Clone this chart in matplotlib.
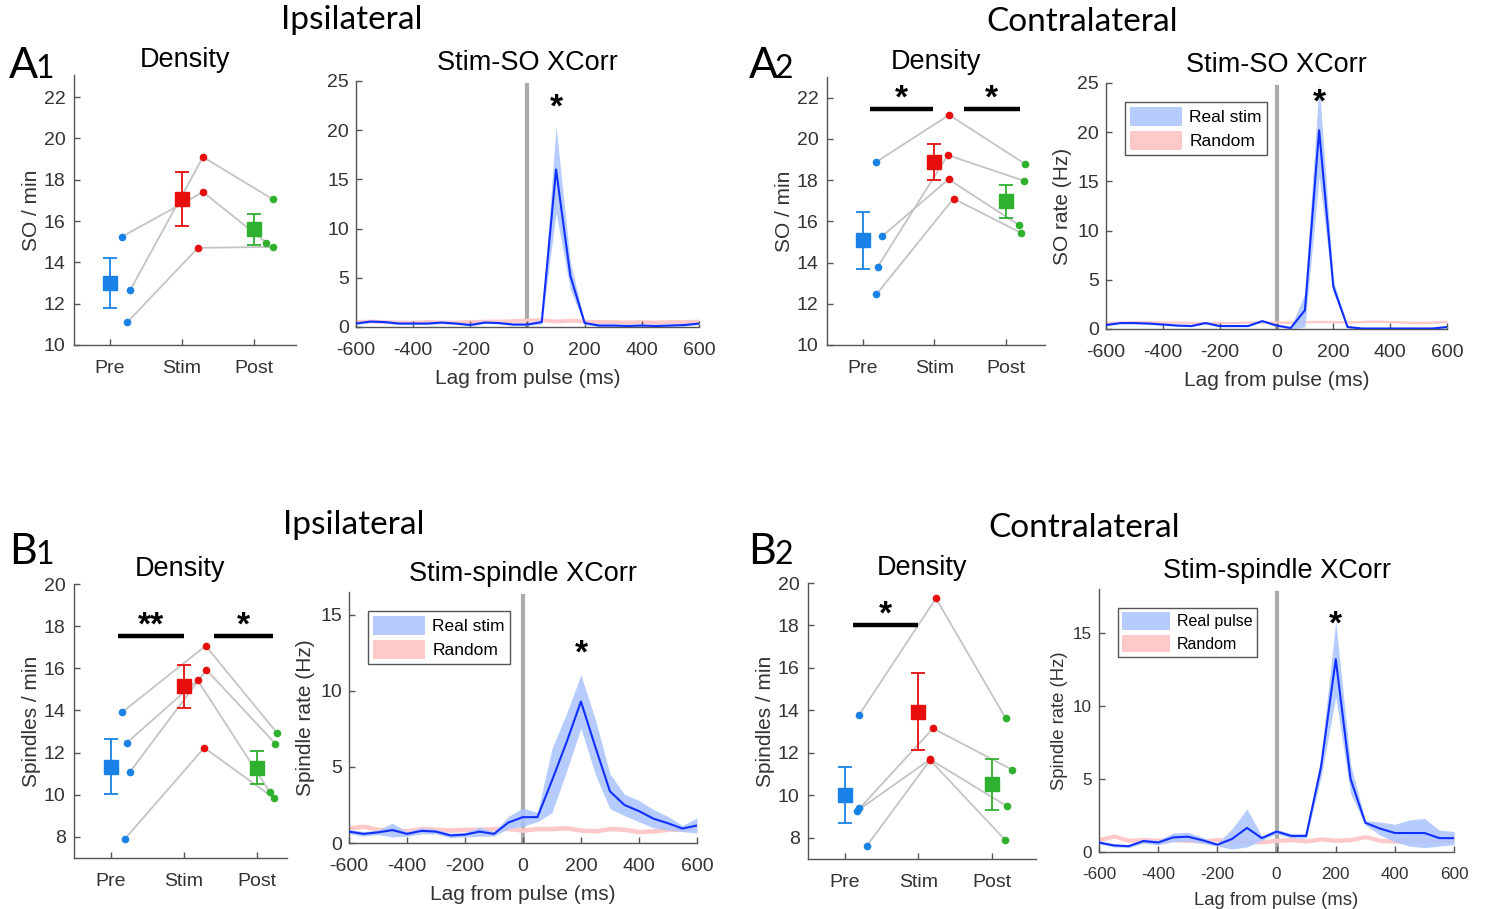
import matplotlib

matplotlib.use("Agg")
import matplotlib.pyplot as plt
import numpy as np

plt.rcParams["font.family"] = ["Liberation Sans", "DejaVu Sans"]
plt.rcParams["axes.unicode_minus"] = False

# ---- density panels: per-subject values (Pre, Stim, Post) and x jitter ----
groups = ["Pre", "Stim", "Post"]

a1_subj = [[15.25, 17.4, 14.95], [12.65, 19.1, 17.05], [11.1, 14.7, 14.75]]
a1_offs = [[0.17, 0.29, 0.17], [0.28, 0.29, 0.26], [0.24, 0.22, 0.26]]
a1_mean = [13.0, 17.05, 15.6]
a1_sem = [1.2, 1.3, 0.75]

a2_subj = [[18.86, 21.16, 18.78], [15.27, 18.04, 15.83], [13.79, 19.21, 17.97], [12.45, 17.10, 15.43]]
a2_offs = [[0.18, 0.21, 0.27], [0.27, 0.20, 0.18], [0.21, 0.19, 0.25], [0.19, 0.27, 0.22]]
a2_mean = [15.07, 18.86, 16.97]
a2_sem = [1.4, 0.87, 0.8]

b1_subj = [[13.92, 17.07, 12.91], [12.46, 15.44, 10.11], [11.06, 15.93, 12.43], [7.92, 12.23, 9.85]]
b1_offs = [[0.16, 0.30, 0.28], [0.22, 0.19, 0.18], [0.26, 0.31, 0.25], [0.20, 0.28, 0.23]]
b1_mean = [11.34, 15.16, 11.29]
b1_sem = [1.29, 1.02, 0.78]

b2_subj = [[13.76, 19.28, 13.62], [9.38, 13.15, 11.2], [9.27, 11.69, 9.48], [7.62, 11.66, 7.9]]
b2_offs = [[0.19, 0.24, 0.19], [0.20, 0.20, 0.28], [0.17, 0.16, 0.21], [0.30, 0.16, 0.18]]
b2_mean = [10.0, 13.94, 10.52]
b2_sem = [1.32, 1.81, 1.2]

# significance bars: (x start, x end, y, label)
a2_sig = [(1.1, 1.99, 21.47, "*"), (2.41, 3.2, 21.47, "*")]
b1_sig = [(1.1, 2.0, 17.55, "**"), (2.42, 3.22, 17.55, "*")]
b2_sig = [(1.11, 1.99, 18.04, "*")]

# ---- cross-correlation panels ----
lags = np.arange(-600, 601, 50)

a1_real = [0.35, 0.55, 0.5, 0.35, 0.35, 0.35, 0.45, 0.35, 0.2, 0.45, 0.4, 0.25, 0.25,
           0.5, 16.0, 5.2, 0.4, 0.15, 0.15, 0.1, 0.15, 0.1, 0.15, 0.2, 0.35]
a1_real_sem = [0.1] * 13 + [0.2, 4.4, 1.4, 0.15] + [0.1] * 8
a1_rand = [0.55, 0.6, 0.55, 0.5, 0.5, 0.55, 0.5, 0.5, 0.55, 0.6, 0.6, 0.65, 0.7,
           0.75, 0.6, 0.7, 0.6, 0.55, 0.55, 0.5, 0.55, 0.5, 0.55, 0.55, 0.6]
a1_rand_sem = [0.2] * 25

a2_real = [0.4, 0.6, 0.6, 0.55, 0.45, 0.35, 0.3, 0.6, 0.3, 0.3, 0.3, 0.8, 0.35,
           0.1, 1.9, 20.2, 4.3, 0.2, 0.05, 0.05, 0.05, 0.05, 0.05, 0.05, 0.2]
a2_real_sem = [0.08] * 13 + [0.1, 1.7, 4.7, 0.6] + [0.08] * 8
a2_rand = [0.65, 0.7, 0.75, 0.75, 0.7, 0.7, 0.65, 0.65, 0.65, 0.65, 0.7, 0.7, 0.7,
           0.7, 0.75, 0.75, 0.75, 0.7, 0.75, 0.8, 0.75, 0.7, 0.65, 0.7, 0.75]
a2_rand_sem = [0.12] * 25

b1_real = [0.75, 0.6, 0.7, 0.85, 0.6, 0.8, 0.75, 0.5, 0.55, 0.75, 0.6, 1.35, 1.7,
           1.7, 4.1, 6.6, 9.3, 6.3, 3.4, 2.5, 2.1, 1.6, 1.3, 0.95, 1.15]
b1_real_sem = [0.15, 0.15, 0.15, 0.45, 0.15, 0.2, 0.15, 0.15, 0.15, 0.3, 0.15, 0.4, 0.6,
               0.3, 2.1, 1.9, 1.75, 1.8, 1.15, 0.7, 0.7, 0.6, 0.45, 0.2, 0.5]
b1_rand = [1.0, 1.1, 0.9, 0.85, 0.8, 0.95, 0.9, 0.85, 0.9, 0.9, 0.95, 0.95, 0.85,
           0.95, 0.95, 1.0, 0.85, 0.8, 0.95, 0.9, 0.75, 0.8, 0.9, 0.9, 1.0]
b1_rand_sem = [0.15] * 25

b2_real = [0.65, 0.45, 0.4, 0.75, 0.65, 1.0, 1.05, 0.8, 0.5, 0.9, 1.65, 0.95, 1.4,
           1.1, 1.1, 5.8, 13.2, 5.0, 2.0, 1.6, 1.3, 1.3, 1.3, 0.95, 0.95]
b2_real_sem = [0.1, 0.1, 0.1, 0.15, 0.15, 0.3, 0.3, 0.2, 0.1, 0.7, 1.3, 0.15, 0.15,
               0.15, 0.15, 0.7, 2.6, 1.0, 0.15, 0.45, 0.6, 0.9, 1.0, 0.55, 0.45]
b2_rand = [0.85, 1.1, 0.8, 0.85, 0.8, 0.85, 0.8, 0.75, 0.85, 0.75, 0.75, 0.7, 0.8,
           0.85, 0.75, 0.9, 0.8, 0.85, 1.05, 0.8, 0.75, 0.8, 0.8, 0.8, 0.8]
b2_rand_sem = [0.15] * 25

# peak significance stars (lag, y)
a1_star = (100, 22.2)
a2_star = (150, 23.0)
b1_star = (200, 12.4)
b2_star = (200, 15.5)

GROUP_COLORS = ["#1a82e6", "#e60d0d", "#2fb02f"]
LINK_GRAY = "#c4c4c4"
AX_GRAY = "#555555"
REAL_LINE = "#1030ff"
REAL_FILL = "#a9c4ff"
RAND_FILL = "#ffc9c9"
HEAD_FONT = ["Lato", "DejaVu Sans"]


def style_axes(ax, fs=14):
    for side in ("top", "right"):
        ax.spines[side].set_visible(False)
    for side in ("left", "bottom"):
        ax.spines[side].set_color(AX_GRAY)
        ax.spines[side].set_linewidth(1.0)
    ax.tick_params(direction="in", length=4, width=1, colors=AX_GRAY,
                   labelcolor="#333333", labelsize=fs)


def density(ax, subj, offs, means, sems, ylim, yticks, xlim, ylabel, sig=()):
    for vals, off in zip(subj, offs):
        xs = np.arange(1, 4) + np.array(off)
        ax.plot(xs, vals, color=LINK_GRAY, lw=1.3, zorder=1)
        for i in range(3):
            ax.plot(xs[i], vals[i], "o", color=GROUP_COLORS[i], ms=5.5, mec="none", zorder=3)
    for i in range(3):
        ax.errorbar(i + 1, means[i], yerr=sems[i], fmt="s", color=GROUP_COLORS[i],
                    ms=10, capsize=5, elinewidth=1.3, capthick=1.3, zorder=4)
    for x0, x1, y, lab in sig:
        ax.plot([x0, x1], [y, y], color="black", lw=3.2, solid_capstyle="butt", clip_on=False)
        ax.text((x0 + x1) / 2, y + 0.45, lab, ha="center", va="center", fontsize=24,
                fontweight="bold", clip_on=False)
    ax.set_xlim(*xlim)
    ax.set_ylim(*ylim)
    ax.set_yticks(yticks)
    ax.set_xticks([1, 2, 3])
    ax.set_xticklabels(groups)
    ax.set_ylabel(ylabel, fontsize=15, color="#333333", labelpad=2)
    ax.set_title("Density", fontsize=19.5, pad=6)
    style_axes(ax)
    ax.tick_params(axis="x", pad=11)
    ax.tick_params(axis="y", pad=6)


def xcorr(ax, real, real_sem, rand, rand_sem, ylim, yticks, title, star, ylabel=None,
          legend=None, fs=14, lfs=12.5):
    real = np.array(real)
    real_sem = np.array(real_sem)
    rand = np.array(rand)
    rand_sem = np.array(rand_sem)
    h2 = ax.fill_between(lags, rand - rand_sem, rand + rand_sem, color=RAND_FILL, lw=0, zorder=1)
    h1 = ax.fill_between(lags, np.clip(real - real_sem, 0, None), real + real_sem,
                         color=REAL_FILL, alpha=0.85, lw=0, zorder=2)
    ax.plot(lags, real, color=REAL_LINE, lw=1.5, zorder=3)
    ax.axvline(0, ymax=0.985, color="#aaaaaa", lw=3, zorder=0)
    ax.text(star[0], star[1], "*", ha="center", va="center", fontsize=24, fontweight="bold")
    ax.set_xlim(-600, 600)
    ax.set_ylim(*ylim)
    ax.set_yticks(yticks)
    ax.set_xticks(np.arange(-600, 601, 200))
    ax.set_xlabel("Lag from pulse (ms)", fontsize=fs + 1, color="#333333", labelpad=7)
    if ylabel:
        ax.set_ylabel(ylabel, fontsize=fs + 1, color="#333333", labelpad=4)
    ax.set_title(title, fontsize=19.5, pad=8)
    style_axes(ax, fs)
    ax.tick_params(axis="x", pad=11)
    ax.tick_params(axis="y", pad=5)
    if legend:
        ax.legend([h1, h2], legend, loc="upper left", bbox_to_anchor=(0.03, 0.96),
                  fancybox=False, edgecolor="#555555", framealpha=1, fontsize=lfs,
                  handlelength=3.0, handleheight=1.3, borderpad=0.3, labelspacing=0.3,
                  handletextpad=0.4)


fig = plt.figure(figsize=(14.85, 9.09), dpi=100)

ax = fig.add_axes([0.0498, 0.6205, 0.1495, 0.297])
density(ax, a1_subj, a1_offs, a1_mean, a1_sem, (10, 23.07), range(10, 23, 2), (0.5, 3.58), "SO / min")
ax = fig.add_axes([0.2397, 0.6403, 0.231, 0.2706])
xcorr(ax, a1_real, a1_real_sem, a1_rand, a1_rand_sem, (0, 25), range(0, 26, 5), "Stim-SO XCorr", a1_star)

ax = fig.add_axes([0.5569, 0.6205, 0.1468, 0.2948])
density(ax, a2_subj, a2_offs, a2_mean, a2_sem, (10, 23.0), range(10, 23, 2), (0.5, 3.55), "SO / min", a2_sig)
ax = fig.add_axes([0.7448, 0.6381, 0.2296, 0.2706])
xcorr(ax, a2_real, a2_real_sem, a2_rand, a2_rand_sem, (0, 25), range(0, 26, 5), "Stim-SO XCorr", a2_star,
      ylabel="SO rate (Hz)", legend=["Real stim", "Random"])

ax = fig.add_axes([0.0498, 0.0561, 0.1434, 0.3014])
density(ax, b1_subj, b1_offs, b1_mean, b1_sem, (7, 20), range(8, 21, 2), (0.5, 3.41), "Spindles / min", b1_sig)
ax = fig.add_axes([0.235, 0.0726, 0.2343, 0.2761])
xcorr(ax, b1_real, b1_real_sem, b1_rand, b1_rand_sem, (0, 16.5), range(0, 16, 5), "Stim-spindle XCorr", b1_star,
      ylabel="Spindle rate (Hz)", legend=["Real stim", "Random"])

ax = fig.add_axes([0.5441, 0.055, 0.1535, 0.3036])
density(ax, b2_subj, b2_offs, b2_mean, b2_sem, (7, 20), range(8, 21, 2), (0.5, 3.6), "Spindles / min", b2_sig)
ax = fig.add_axes([0.7401, 0.0627, 0.2391, 0.2893])
xcorr(ax, b2_real, b2_real_sem, b2_rand, b2_rand_sem, (0, 18), range(0, 16, 5), "Stim-spindle XCorr", b2_star,
      ylabel="Spindle rate (Hz)", legend=["Real pulse", "Random"], fs=12.3, lfs=11.5)

# section headers and panel letters
for x, y, s in [(0.237, 0.978, "Ipsilateral"), (0.7286, 0.976, "Contralateral"),
                (0.2384, 0.422, "Ipsilateral"), (0.73, 0.419, "Contralateral")]:
    fig.text(x, y, s, ha="center", va="center", fontsize=24, family=HEAD_FONT)

for x, y, letter, sub in [(0.006, 0.914, "A", "1"), (0.504, 0.914, "A", "2"),
                          (0.006, 0.38, "B", "1"), (0.504, 0.38, "B", "2")]:
    fig.text(x, y, letter, ha="left", va="baseline", fontsize=31, family=HEAD_FONT)
    fig.text(x + 0.0178, y, sub, ha="left", va="baseline", fontsize=23, family=HEAD_FONT)

fig.savefig("out.png", dpi=100)
